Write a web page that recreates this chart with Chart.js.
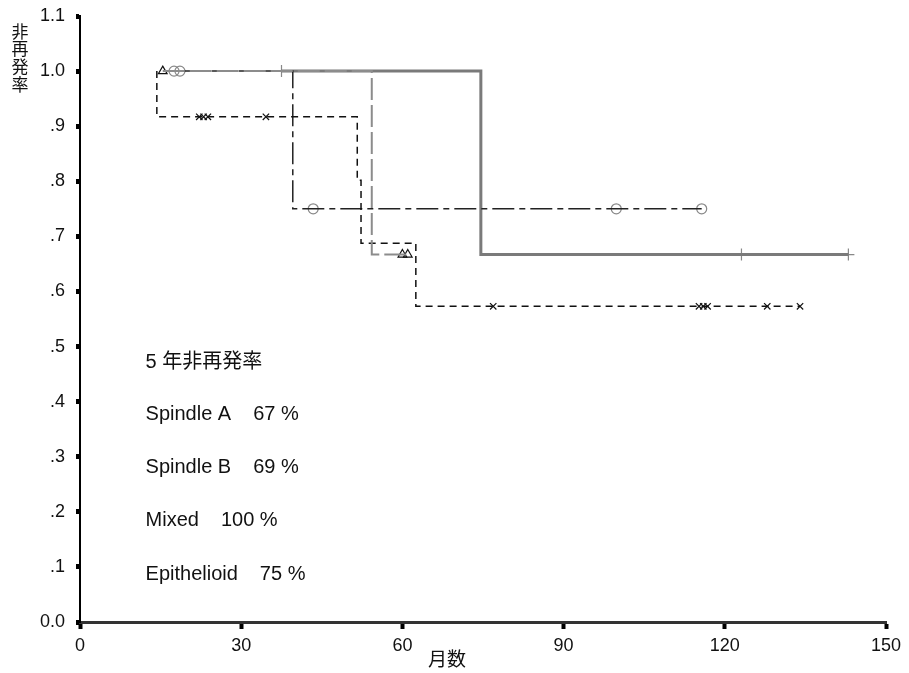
<!DOCTYPE html>
<html>
<head>
<meta charset="utf-8">
<script src="https://cdn.jsdelivr.net/npm/chart.js@4/dist/chart.umd.min.js"></script>
<style>
  html, body { margin: 0; padding: 0; background: #fff; }
  #wrap { width: 909px; height: 673px; }
</style>
</head>
<body>
<div id="wrap"><canvas id="km"></canvas></div>
<script>
// Kaplan-Meier recurrence-free curves by histologic type (time in months)
const spindleATimes = [15.4, 54.3, 61.0];
const spindleASurv = [1.0, 0.667, 0.667];
const spindleACensorTimes = [15.4, 60.0, 61.0];
const spindleACensorSurv = [1.0, 0.667, 0.667];

const spindleBTimes = [14.3, 14.3, 51.6, 52.3, 62.5, 134.0];
const spindleBSurv = [1.0, 0.917, 0.802, 0.6875, 0.573, 0.573];
const spindleBCensorTimes = [22.2, 23.0, 23.8, 34.6, 76.9, 115.2, 116.0, 116.8, 127.9, 134.0];
const spindleBCensorSurv = [0.917, 0.917, 0.917, 0.917, 0.573, 0.573, 0.573, 0.573, 0.573, 0.573];

const mixedTimes = [37.5, 74.6, 143.0];
const mixedSurv = [1.0, 0.667, 0.667];
const mixedCensorTimes = [37.5, 123.1, 143.0];
const mixedCensorSurv = [1.0, 0.667, 0.667];

const epiTimes = [17.5, 39.6, 115.7];
const epiSurv = [1.0, 0.75, 0.75];
const epiCensorTimes = [17.5, 18.6, 43.4, 99.8, 115.7];
const epiCensorSurv = [1.0, 1.0, 0.75, 0.75, 0.75];

// 5-year recurrence-free rates printed inside the plot
const summaryTitle = '5 年非再発率';
const groupNames = ['Spindle A', 'Spindle B', 'Mixed', 'Epithelioid'];
const fiveYearRates = ['67 %', '69 %', '100 %', '75 %'];

// Axis labelling
const yTickLabels = ['0.0', '.1', '.2', '.3', '.4', '.5', '.6', '.7', '.8', '.9', '1.0', '1.1'];
const yTitleChars = ['非', '再', '発', '率'];
const xTitle = '月数';

const FONT = '"Liberation Sans", Arial, "Noto Sans CJK JP", sans-serif';

function pts(times, vals) {
  return times.map((t, i) => ({ x: t, y: vals[i] }));
}

function curve(times, vals, color, width, dash) {
  return {
    type: 'line', data: pts(times, vals), stepped: 'before',
    borderColor: color, borderWidth: width, borderDash: dash,
    pointRadius: 0, fill: false, tension: 0
  };
}

function censor(times, vals, style, color, radius) {
  return {
    type: 'line', data: pts(times, vals), showLine: false,
    pointStyle: style, pointRadius: radius, pointBorderColor: color,
    pointBackgroundColor: 'rgba(0,0,0,0)', pointBorderWidth: 1.2,
    pointHoverRadius: radius
  };
}

// Text inside the plot and the axis titles
const annotations = {
  id: 'annotations',
  afterDraw(chart) {
    const { ctx, scales } = chart;
    const x = scales.x, y = scales.y;
    ctx.save();
    ctx.fillStyle = '#111';
    ctx.textBaseline = 'middle';
    ctx.textAlign = 'left';
    ctx.font = '20px ' + FONT;
    const left = x.getPixelForValue(12.2);
    ctx.fillText(summaryTitle, left, y.getPixelForValue(0.471));
    const rows = [0.376, 0.281, 0.185, 0.086];
    groupNames.forEach((name, i) => {
      const yy = y.getPixelForValue(rows[i]);
      ctx.fillText(name, left, yy);
      const w = ctx.measureText(name).width;
      ctx.fillText(fiveYearRates[i], left + w + 22, yy);
    });
    // vertical y-axis title, one character per line
    ctx.font = '17px ' + FONT;
    ctx.textAlign = 'center';
    yTitleChars.forEach((c, i) => {
      ctx.fillText(c, 20, 33 + i * 17.8);
    });
    // x-axis title
    ctx.font = '19px ' + FONT;
    ctx.fillText(xTitle, x.getPixelForValue(68.3), 661);
    ctx.restore();
  }
};

new Chart(document.getElementById('km'), {
  type: 'line',
  data: {
    datasets: [
      curve(spindleATimes, spindleASurv, '#8c8c8c', 2, [22, 5]),
      curve(spindleBTimes, spindleBSurv, '#111', 1.5, [7, 5]),
      curve(epiTimes, epiSurv, '#222', 1.5, [22, 5, 6, 5]),
      curve(mixedTimes, mixedSurv, '#7a7a7a', 3, []),
      censor(spindleACensorTimes, spindleACensorSurv, 'triangle', '#111', 5),
      censor(spindleBCensorTimes, spindleBCensorSurv, 'crossRot', '#111', 4.5),
      censor(mixedCensorTimes, mixedCensorSurv, 'cross', '#888', 6),
      censor(epiCensorTimes, epiCensorSurv, 'circle', '#888', 5)
    ]
  },
  options: {
    responsive: true,
    maintainAspectRatio: false,
    animation: false,
    events: [],
    layout: { padding: { top: 16, right: 23, left: 0, bottom: 0 } },
    plugins: { legend: { display: false }, tooltip: { enabled: false } },
    scales: {
      x: {
        type: 'linear', min: 0, max: 150,
        afterFit(s) { s.height = 51; s.paddingRight = 0; s.paddingLeft = 0; },
        ticks: { stepSize: 30, color: '#111', padding: 6, font: { family: FONT, size: 18 } },
        grid: { drawOnChartArea: false, drawTicks: true, tickLength: 7, tickWidth: 4, tickColor: '#000' },
        border: { display: true, color: '#333', width: 3 }
      },
      y: {
        type: 'linear', min: 0, max: 1.1,
        afterFit(s) { s.width = 80; s.paddingTop = 0; s.paddingBottom = 0; },
        ticks: {
          stepSize: 0.1, color: '#111', padding: 11, font: { family: FONT, size: 18 },
          callback: (v, i) => yTickLabels[i]
        },
        grid: { drawOnChartArea: false, drawTicks: true, tickLength: 4, tickWidth: 5, tickColor: '#000' },
        border: { display: true, color: '#000', width: 2 }
      }
    }
  },
  plugins: [annotations]
});
</script>
</body>
</html>
